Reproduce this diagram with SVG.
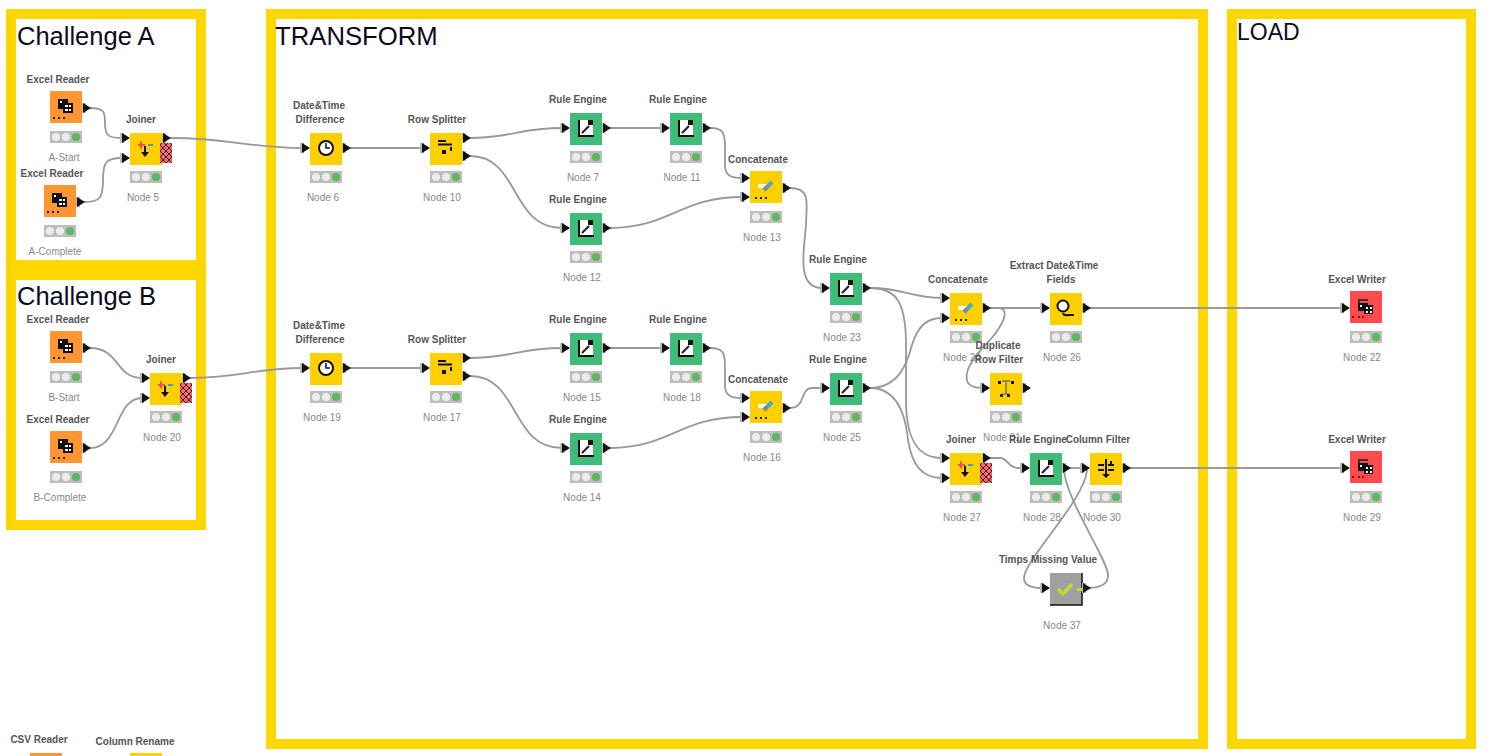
<svg xmlns="http://www.w3.org/2000/svg" width="1497" height="756" viewBox="0 0 1497 756">
<style>
.frame{fill:#fff;stroke:#ffd700;stroke-width:10}
.title{font-family:"Liberation Sans",Arial,sans-serif;fill:#0a0a1e}
.lab{font-family:"Liberation Sans",Arial,sans-serif;font-size:10px;font-weight:bold;fill:#555;text-anchor:middle}
.sub{font-family:"Liberation Sans",Arial,sans-serif;font-size:10px;fill:#888;text-anchor:middle}
.w{fill:none;stroke:#999;stroke-width:1.8}
</style>
<defs>
<pattern id="hatch" width="6" height="6" patternUnits="userSpaceOnUse"><rect width="6" height="6" fill="#f06a70"/><path d="M0 0L6 6M6 0L0 6" stroke="#4a2025" stroke-width="1"/></pattern>
<g id="st"><rect width="32" height="12" fill="#bdbdbd"/><circle cx="6" cy="6" r="4" fill="#ececec"/><circle cx="16" cy="6" r="4" fill="#ececec"/><circle cx="26" cy="6" r="4" fill="#5cb85c"/></g>
<g id="pi"><rect x="-10" y="-5" width="4" height="10" fill="#bbb"/><path d="M-8-5L0 0L-8 5Z" fill="#111"/></g>
<g id="po"><rect x="0" y="-5" width="4" height="10" fill="#bbb"/><path d="M1-5L9 0L1 5Z" fill="#111"/></g>
<g id="dots"><path d="M3 26h2v2h-2zM8 26h2v2h-2zM13 26h2v2h-2z" fill="#222"/></g>
<g id="reader"><rect width="32" height="32" fill="#ff9632"/><rect x="8" y="8" width="10" height="10" fill="#111"/><rect x="13" y="12" width="10" height="10" fill="#111"/><path d="M10 10h2v2h-2zM15 14h3v2h-3zM19 14h2v2h-2zM15 18h3v2h-3zM19 18h2v2h-2z" fill="#fff"/><use href="#dots"/></g>
<g id="writer"><rect width="32" height="32" fill="#ff4b4b"/><path d="M8 8h10v2h-8v3h-2z" fill="#333"/><rect x="8" y="12" width="10" height="8" fill="#111"/><rect x="14" y="14" width="9" height="9" fill="#111"/><path d="M10 14h2v2h-2zM16 16h2v2h-2zM20 16h2v2h-2zM16 20h2v2h-2zM20 20h2v2h-2z" fill="#fff"/><path d="M2 25h2v2h-2zM8 25h2v2h-2zM12 25h2v2h-2z" fill="#7a1a1a"/></g>
<g id="joiner"><rect width="32" height="32" fill="#ffd000"/><path d="M8 12h7M11 8.500v7" stroke="#e8505b" stroke-width="2"/><path d="M18 12h5" stroke="#3aa0d0" stroke-width="2"/><path d="M15 13v9" stroke="#111" stroke-width="2"/><path d="M11 19h8l-4 5z" fill="#111"/><rect x="30" y="10" width="12" height="20" fill="url(#hatch)"/></g>
<g id="clock"><rect width="32" height="32" fill="#ffd000"/><circle cx="16" cy="15" r="7" fill="#fff" stroke="#111" stroke-width="2"/><path d="M16 10v5h4" fill="none" stroke="#111" stroke-width="1.500"/></g>
<g id="split"><rect width="32" height="32" fill="#ffd000"/><path d="M8 7h8v2H8zM8 10.500h14v2H8zM20 14h2v4h-2zM12 17h4v4h-4z" fill="#111"/></g>
<g id="rule"><rect width="32" height="32" fill="#41bc78"/><path d="M8 7h15v17H8z" fill="#fff"/><path d="M9 7v16h15" fill="none" stroke="#111" stroke-width="2"/><rect x="18" y="7" width="5" height="5" fill="#111"/><path d="M12 20l7-7" stroke="#222" stroke-width="2.200"/></g>
<g id="concat"><rect width="32" height="32" fill="#ffd000"/><rect x="8" y="13" width="10" height="4" fill="#fff"/><path d="M14 19l8-8" stroke="#4aa8c8" stroke-width="4"/><path d="M14 19l3-3" stroke="#888" stroke-width="4"/><use href="#dots" x="2" y="0"/></g>
<g id="extract"><rect width="32" height="32" fill="#ffd000"/><circle cx="13" cy="13" r="5.500" fill="#fff" stroke="#111" stroke-width="2"/><path d="M13 20q1 3 5 2h6" fill="none" stroke="#111" stroke-width="2"/></g>
<g id="dup"><rect width="32" height="32" fill="#ffd000"/><path d="M12 8h8M16 8v13M13 21h6" stroke="#777" stroke-width="1.500" fill="none"/><path d="M8 8h3v3h-3zM21 8h3v3h-3z" fill="#111"/><path d="M10 21h3v3h-3zM17 21h3v3h-3z" fill="#222"/></g>
<g id="colf"><rect width="32" height="32" fill="#ffd000"/><path d="M8 12h6M8 17h6M18 12h6M18 17h6" stroke="#111" stroke-width="2"/><path d="M16 6v16" stroke="#111" stroke-width="2"/><path d="M12 21h8l-4 4z" fill="#111"/><path d="M21 8v4" stroke="#111" stroke-width="2"/></g>
<g id="miss"><rect width="32" height="32" fill="#a0a0a0"/><path d="M32 0v32H0" fill="none" stroke="#111" stroke-width="1.500"/><path d="M8 16l5 5 9-10" fill="none" stroke="#c4d82e" stroke-width="3.500"/><path d="M27 15h5v3h-5z" fill="#c4d82e"/></g>
</defs>
<rect width="1497" height="756" fill="#fff"/>
<g id="frames">
<rect class="frame" x="11" y="14" width="190" height="251"/>
<rect class="frame" x="11" y="275" width="190" height="250"/>
<rect class="frame" x="271" y="14" width="932" height="730"/>
<rect class="frame" x="1232" y="14" width="239" height="730"/>
<text class="title" x="17" y="45" font-size="25.500">Challenge A</text>
<text class="title" x="17" y="305" font-size="25.500">Challenge B</text>
<text class="title" x="275" y="45" font-size="25.700">TRANSFORM</text>
<text class="title" x="1237" y="40" font-size="23">LOAD</text>
</g>
<g id="connectors">
<path class="w" d="M90 108C104 108 105 112 105 122C105 134 106 138 122 138"/>
<path class="w" d="M84 202C100 202 103 198 103 180C103 162 106 158 122 158"/>
<path class="w" d="M170 138C230 138 250 148 302 148"/>
<path class="w" d="M350 148H422"/>
<path class="w" d="M470 138C510 138 520 128 562 128"/>
<path class="w" d="M470 156C520 156 510 228 562 228"/>
<path class="w" d="M610 128H662"/>
<path class="w" d="M710 128C722 128 725 132 725 145V165C725 175 730 178 742 178"/>
<path class="w" d="M610 228C670 228 680 197 742 197"/>
<path class="w" d="M790 188C812 188 806 205 806 225C804 250 796 288 822 288"/>
<path class="w" d="M870 288C905 288 910 298 942 298"/>
<path class="w" d="M870 288C895 288 905 300 906 340V400C906 440 918 458 942 458"/>
<path class="w" d="M790 408C806 408 800 388 812 388H822"/>
<path class="w" d="M870 388C900 388 908 360 912 345C918 325 928 318 942 318"/>
<path class="w" d="M870 388C895 388 905 410 908 440C912 465 922 478 942 478"/>
<path class="w" d="M990 308H1042"/>
<path class="w" d="M990 308H1000C1010 310 1003 325 990 340C975 355 962 372 968 383Q972 388 982 388"/>
<path class="w" d="M1090 308H1342"/>
<path class="w" d="M990 458H1000C1008 458 1008 468 1018 468H1022"/>
<path class="w" d="M1070 468H1082"/>
<path class="w" d="M1064 470C1066 500 1108 560 1108 575C1108 585 1100 588 1085 588"/>
<path class="w" d="M1087 470C1085 500 1024 560 1024 578C1024 586 1032 588 1042 588"/>
<path class="w" d="M1130 468H1342"/>
<path class="w" d="M90 348C120 348 115 378 142 378"/>
<path class="w" d="M90 448C120 448 115 398 142 398"/>
<path class="w" d="M190 378C240 378 255 368 302 368"/>
<path class="w" d="M350 368H422"/>
<path class="w" d="M470 358C510 358 520 348 562 348"/>
<path class="w" d="M470 376C520 376 510 448 562 448"/>
<path class="w" d="M610 348H662"/>
<path class="w" d="M710 348C722 348 725 352 725 365V385C725 395 730 398 742 398"/>
<path class="w" d="M610 448C670 448 680 417 742 417"/>
</g>
<g id="nA1"><use href="#reader" x="50" y="91"/><use href="#st" x="50" y="131"/><use href="#po" x="82" y="108"/><text class="lab" x="58" y="83">Excel Reader</text><text class="sub" x="64" y="161">A-Start</text></g>
<g id="nA2"><use href="#reader" x="44" y="185"/><use href="#st" x="44" y="225"/><use href="#po" x="76" y="202"/><text class="lab" x="52" y="177">Excel Reader</text><text class="sub" x="55" y="255">A-Complete</text></g>
<g id="n5"><use href="#joiner" x="130" y="133"/><use href="#st" x="130" y="171"/><use href="#pi" x="130" y="138"/><use href="#pi" x="130" y="158"/><use href="#po" x="162" y="138"/><text class="lab" x="141" y="123">Joiner</text><text class="sub" x="143" y="201">Node 5</text></g>
<g id="n6"><use href="#clock" x="310" y="133"/><use href="#st" x="310" y="171"/><use href="#pi" x="310" y="148"/><use href="#po" x="342" y="148"/><text class="lab" x="319" y="109">Date&amp;Time</text><text class="lab" x="320" y="123">Difference</text><text class="sub" x="323" y="201">Node 6</text></g>
<g id="n10"><use href="#split" x="430" y="133"/><use href="#st" x="430" y="171"/><use href="#pi" x="430" y="148"/><use href="#po" x="462" y="138"/><use href="#po" x="462" y="156"/><text class="lab" x="437" y="123">Row Splitter</text><text class="sub" x="442" y="201">Node 10</text></g>
<g id="n7"><use href="#rule" x="570" y="113"/><use href="#st" x="570" y="151"/><use href="#pi" x="570" y="128"/><use href="#po" x="602" y="128"/><text class="lab" x="578" y="103">Rule Engine</text><text class="sub" x="583" y="181">Node 7</text></g>
<g id="n11"><use href="#rule" x="670" y="113"/><use href="#st" x="670" y="151"/><use href="#pi" x="670" y="128"/><use href="#po" x="702" y="128"/><text class="lab" x="678" y="103">Rule Engine</text><text class="sub" x="682" y="181">Node 11</text></g>
<g id="n12"><use href="#rule" x="570" y="213"/><use href="#st" x="570" y="251"/><use href="#pi" x="570" y="228"/><use href="#po" x="602" y="228"/><text class="lab" x="578" y="203">Rule Engine</text><text class="sub" x="582" y="281">Node 12</text></g>
<g id="n13"><use href="#concat" x="750" y="171"/><use href="#st" x="750" y="211"/><use href="#pi" x="750" y="178"/><use href="#pi" x="750" y="197"/><use href="#po" x="782" y="188"/><text class="lab" x="758" y="163">Concatenate</text><text class="sub" x="762" y="241">Node 13</text></g>
<g id="n23"><use href="#rule" x="830" y="273"/><use href="#st" x="830" y="311"/><use href="#pi" x="830" y="288"/><use href="#po" x="862" y="288"/><text class="lab" x="838" y="263">Rule Engine</text><text class="sub" x="842" y="341">Node 23</text></g>
<g id="n24"><use href="#concat" x="950" y="293"/><use href="#st" x="950" y="331"/><use href="#pi" x="950" y="298"/><use href="#pi" x="950" y="318"/><use href="#po" x="982" y="308"/><text class="lab" x="958" y="283">Concatenate</text><text class="sub" x="962" y="361">Node 24</text></g>
<g id="n26"><use href="#extract" x="1050" y="293"/><use href="#st" x="1050" y="331"/><use href="#pi" x="1050" y="308"/><use href="#po" x="1082" y="308"/><text class="lab" x="1054" y="269">Extract Date&amp;Time</text><text class="lab" x="1061" y="283">Fields</text><text class="sub" x="1062" y="361">Node 26</text></g>
<g id="n31"><use href="#dup" x="990" y="373"/><use href="#st" x="990" y="411"/><use href="#pi" x="990" y="388"/><use href="#po" x="1022" y="388"/><text class="lab" x="998" y="349">Duplicate</text><text class="lab" x="999" y="363">Row Filter</text><text class="sub" x="1002" y="441">Node 31</text></g>
<g id="n22"><use href="#writer" x="1350" y="291"/><use href="#st" x="1350" y="331"/><use href="#pi" x="1350" y="308"/><text class="lab" x="1357" y="283">Excel Writer</text><text class="sub" x="1362" y="361">Node 22</text></g>
<g id="nB1"><use href="#reader" x="50" y="331"/><use href="#st" x="50" y="371"/><use href="#po" x="82" y="348"/><text class="lab" x="58" y="323">Excel Reader</text><text class="sub" x="64" y="401">B-Start</text></g>
<g id="nB2"><use href="#reader" x="50" y="431"/><use href="#st" x="50" y="471"/><use href="#po" x="82" y="448"/><text class="lab" x="58" y="423">Excel Reader</text><text class="sub" x="60" y="501">B-Complete</text></g>
<g id="n20"><use href="#joiner" x="150" y="373"/><use href="#st" x="150" y="411"/><use href="#pi" x="150" y="378"/><use href="#pi" x="150" y="398"/><use href="#po" x="182" y="378"/><text class="lab" x="161" y="363">Joiner</text><text class="sub" x="162" y="441">Node 20</text></g>
<g id="n19"><use href="#clock" x="310" y="353"/><use href="#st" x="310" y="391"/><use href="#pi" x="310" y="368"/><use href="#po" x="342" y="368"/><text class="lab" x="319" y="329">Date&amp;Time</text><text class="lab" x="320" y="343">Difference</text><text class="sub" x="322" y="421">Node 19</text></g>
<g id="n17"><use href="#split" x="430" y="353"/><use href="#st" x="430" y="391"/><use href="#pi" x="430" y="368"/><use href="#po" x="462" y="358"/><use href="#po" x="462" y="376"/><text class="lab" x="437" y="343">Row Splitter</text><text class="sub" x="442" y="421">Node 17</text></g>
<g id="n15"><use href="#rule" x="570" y="333"/><use href="#st" x="570" y="371"/><use href="#pi" x="570" y="348"/><use href="#po" x="602" y="348"/><text class="lab" x="578" y="323">Rule Engine</text><text class="sub" x="582" y="401">Node 15</text></g>
<g id="n18"><use href="#rule" x="670" y="333"/><use href="#st" x="670" y="371"/><use href="#pi" x="670" y="348"/><use href="#po" x="702" y="348"/><text class="lab" x="678" y="323">Rule Engine</text><text class="sub" x="682" y="401">Node 18</text></g>
<g id="n14"><use href="#rule" x="570" y="433"/><use href="#st" x="570" y="471"/><use href="#pi" x="570" y="448"/><use href="#po" x="602" y="448"/><text class="lab" x="578" y="423">Rule Engine</text><text class="sub" x="582" y="501">Node 14</text></g>
<g id="n16"><use href="#concat" x="750" y="391"/><use href="#st" x="750" y="431"/><use href="#pi" x="750" y="398"/><use href="#pi" x="750" y="417"/><use href="#po" x="782" y="408"/><text class="lab" x="758" y="383">Concatenate</text><text class="sub" x="762" y="461">Node 16</text></g>
<g id="n25"><use href="#rule" x="830" y="373"/><use href="#st" x="830" y="411"/><use href="#pi" x="830" y="388"/><use href="#po" x="862" y="388"/><text class="lab" x="838" y="363">Rule Engine</text><text class="sub" x="842" y="441">Node 25</text></g>
<g id="n27"><use href="#joiner" x="950" y="453"/><use href="#st" x="950" y="491"/><use href="#pi" x="950" y="458"/><use href="#pi" x="950" y="478"/><use href="#po" x="982" y="458"/><text class="lab" x="961" y="443">Joiner</text><text class="sub" x="962" y="521">Node 27</text></g>
<g id="n28"><use href="#rule" x="1030" y="453"/><use href="#st" x="1030" y="491"/><use href="#pi" x="1030" y="468"/><use href="#po" x="1062" y="468"/><text class="lab" x="1038" y="443">Rule Engine</text><text class="sub" x="1042" y="521">Node 28</text></g>
<g id="n30"><use href="#colf" x="1090" y="453"/><use href="#st" x="1090" y="491"/><use href="#pi" x="1090" y="468"/><use href="#po" x="1122" y="468"/><text class="lab" x="1098" y="443">Column Filter</text><text class="sub" x="1102" y="521">Node 30</text></g>
<g id="n37"><use href="#miss" x="1050" y="573"/><use href="#pi" x="1050" y="588"/><use href="#po" x="1082" y="588"/><text class="lab" x="1048" y="563">Timps Missing Value</text><text class="sub" x="1062" y="629">Node 37</text></g>
<g id="n29"><use href="#writer" x="1350" y="451"/><use href="#st" x="1350" y="491"/><use href="#pi" x="1350" y="468"/><text class="lab" x="1357" y="443">Excel Writer</text><text class="sub" x="1362" y="521">Node 29</text></g>
<g id="legendA"><rect x="30" y="753" width="32" height="3" fill="#ff9632"/><text class="lab" x="39" y="743">CSV Reader</text></g>
<g id="legendB"><rect x="130" y="753" width="32" height="3" fill="#ffd000"/><text class="lab" x="135" y="745">Column Rename</text></g>
</svg>
